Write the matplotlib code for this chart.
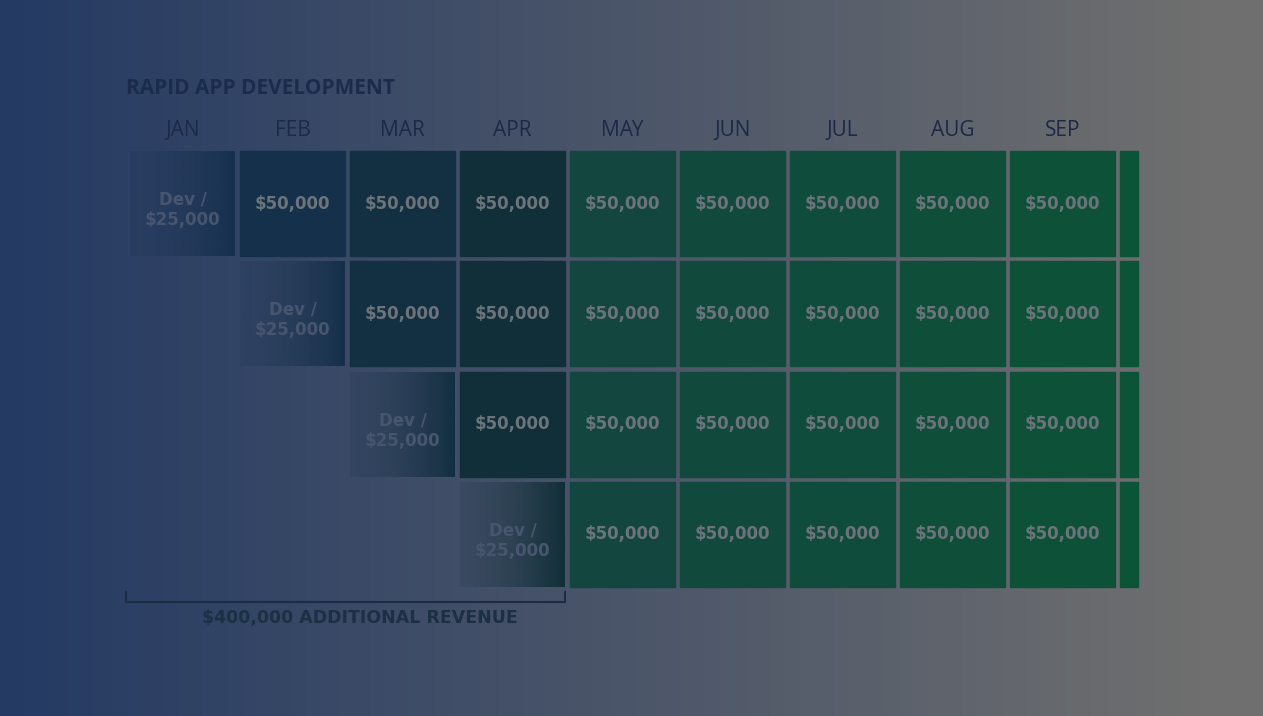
import numpy as np
import matplotlib
matplotlib.use("Agg")
import matplotlib.pyplot as plt
from matplotlib.patches import Rectangle
from matplotlib.colors import to_rgb

title = "RAPID APP DEVELOPMENT"
months = ["JAN", "FEB", "MAR", "APR", "MAY", "JUN", "JUL", "AUG", "SEP", ""]
start_month = [0, 1, 2, 3]          # each app row starts in this month
dev_label = "Dev /\n$25,000"
revenue_label = "$50,000"
summary = "$400,000 ADDITIONAL REVENUE"

W, H = 1263, 716
fig = plt.figure(figsize=(W / 100, H / 100), dpi=100)
ax = fig.add_axes([0, 0, 1, 1])
ax.set_xlim(0, W); ax.set_ylim(H, 0); ax.axis("off")

# background gradient
c0 = np.array(to_rgb("#243a63")); c1 = np.array(to_rgb("#6f6f6f"))
t = np.linspace(0, 1, 256)
t = np.clip(t * 1.05, 0, 1)
grad = (c0[None, :] * (1 - t[:, None]) + c1[None, :] * t[:, None])[None, :, :]
ax.imshow(grad, extent=(0, W, H, 0), aspect="auto", zorder=0)

col_x = [130 + 110 * i for i in range(10)]
row_y = [151, 261, 372, 482]
cw, ch = 105, 105
col_colors = ["#163050", "#15304b", "#132f42", "#112f38", "#13463f", "#12493d",
              "#104c3b", "#0f4f39", "#0d5238", "#0c5437"]

for m, x in zip(months, col_x):
    if m:
        ax.text(x + cw / 2, 131, m, ha="center", va="center", fontsize=15,
                color="#1c2a47", family="Open Sans")

for r, (s, y) in enumerate(zip(start_month, row_y)):
    for c in range(s, 10):
        x = col_x[c]
        w = cw if c < 9 else 1138 - x
        if c == s:
            # dev cell: fade-in gradient
            base = np.array(to_rgb(col_colors[c]))
            g = np.linspace(0, 1, 64) ** 1.5
            img = np.zeros((1, 64, 4)); img[0, :, :3] = base; img[0, :, 3] = 0.15 + 0.85 * g
            ax.imshow(img, extent=(x, x + w, y + ch, y), aspect="auto", zorder=1)
            ax.text(x + cw / 2, y + ch / 2 + 6, dev_label, ha="center", va="center",
                    fontsize=12, color="#48556e", fontweight="bold", linespacing=1.2, zorder=2)
        else:
            ax.add_patch(Rectangle((x, y), w, ch, color=col_colors[c], zorder=1))
            if c < 9:
                ax.text(x + cw / 2, y + ch / 2, revenue_label, ha="center", va="center",
                        fontsize=12, color="#6b747a", fontweight="bold", zorder=2)

ax.text(126, 88, title, ha="left", va="center", fontsize=15, fontweight="bold",
        color="#1b2b4c", family="Open Sans")
ax.plot([126, 126, 565, 565], [592, 602, 602, 592], color="#1c2c44", lw=1.5)
ax.text(360, 618, summary, ha="center", va="center", fontsize=12.5, fontweight="bold",
        color="#1c3044")

fig.savefig("out.png", dpi=100)
